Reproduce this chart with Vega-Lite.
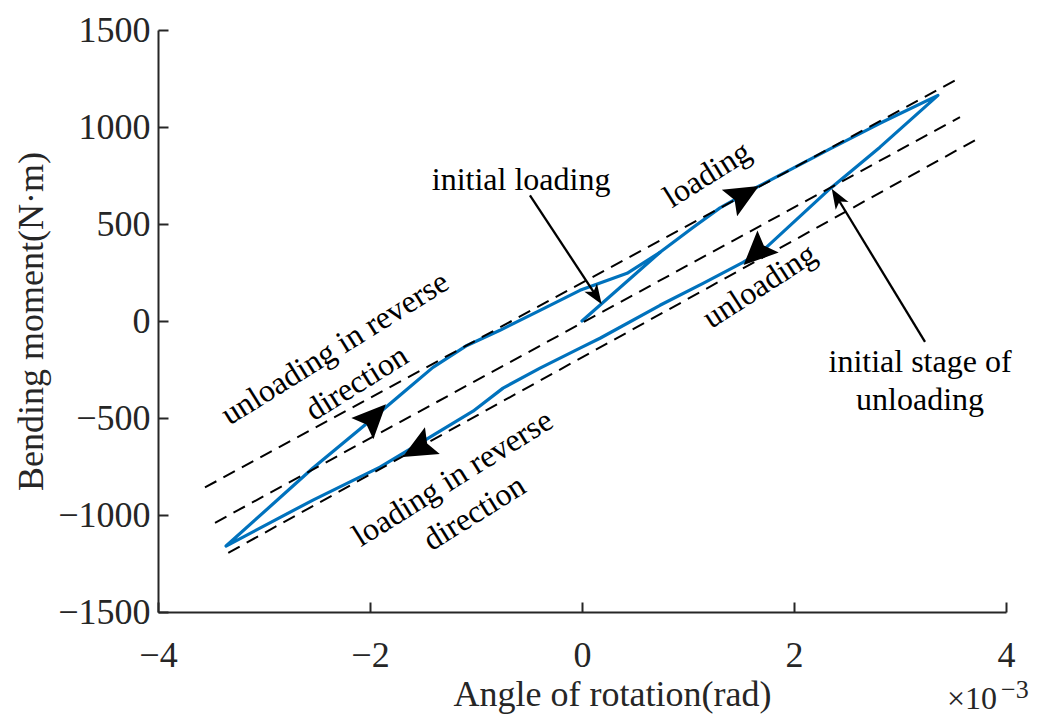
{
  "$schema": "https://vega.github.io/schema/vega-lite/v6.json",
  "width": 848,
  "height": 582,
  "autosize": {"type": "none"},
  "padding": {"left": 158, "top": 30, "right": 36, "bottom": 104},
  "background": "white",
  "config": {"view": {"stroke": null}, "font": "Liberation Serif"},
  "datasets": {
    "loop": [
      {"series": "initial", "i": 0, "x": 0, "y": 0},
      {"series": "initial", "i": 1, "x": 0.736, "y": 354},
      {"series": "cycle", "i": 0, "x": 0.736, "y": 354},
      {"series": "cycle", "i": 1, "x": 1.047, "y": 482},
      {"series": "cycle", "i": 2, "x": 1.302, "y": 583},
      {"series": "cycle", "i": 3, "x": 1.613, "y": 679},
      {"series": "cycle", "i": 4, "x": 2.34, "y": 887},
      {"series": "cycle", "i": 5, "x": 2.811, "y": 1019},
      {"series": "cycle", "i": 6, "x": 3.358, "y": 1163},
      {"series": "cycle", "i": 7, "x": 2.811, "y": 896},
      {"series": "cycle", "i": 8, "x": 2.34, "y": 682},
      {"series": "cycle", "i": 9, "x": 1.708, "y": 364},
      {"series": "cycle", "i": 10, "x": 1.519, "y": 302},
      {"series": "cycle", "i": 11, "x": 1.142, "y": 194},
      {"series": "cycle", "i": 12, "x": 0.736, "y": 81},
      {"series": "cycle", "i": 13, "x": 0.17, "y": -89},
      {"series": "cycle", "i": 14, "x": -0.019, "y": -140},
      {"series": "cycle", "i": 15, "x": -0.396, "y": -243},
      {"series": "cycle", "i": 16, "x": -0.745, "y": -346},
      {"series": "cycle", "i": 17, "x": -1.028, "y": -465},
      {"series": "cycle", "i": 18, "x": -1.434, "y": -599},
      {"series": "cycle", "i": 19, "x": -1.906, "y": -753},
      {"series": "cycle", "i": 20, "x": -2.538, "y": -923},
      {"series": "cycle", "i": 21, "x": -3.358, "y": -1160},
      {"series": "cycle", "i": 22, "x": -2.538, "y": -758},
      {"series": "cycle", "i": 23, "x": -2.028, "y": -527},
      {"series": "cycle", "i": 24, "x": -1.717, "y": -383},
      {"series": "cycle", "i": 25, "x": -1.406, "y": -239},
      {"series": "cycle", "i": 26, "x": -1.085, "y": -126},
      {"series": "cycle", "i": 27, "x": -0.774, "y": -48},
      {"series": "cycle", "i": 28, "x": -0.396, "y": 55},
      {"series": "cycle", "i": 29, "x": -0.019, "y": 158},
      {"series": "cycle", "i": 30, "x": 0.425, "y": 246},
      {"series": "cycle", "i": 31, "x": 0.736, "y": 354}
    ],
    "guides": [
      {"line": "upper", "x": -3.557, "y": -858},
      {"line": "upper", "x": 3.519, "y": 1240},
      {"line": "middle", "x": -3.462, "y": -1040},
      {"line": "middle", "x": 3.566, "y": 1051},
      {"line": "lower", "x": -3.337, "y": -1195},
      {"line": "lower", "x": 3.755, "y": 946}
    ],
    "one": [{}]
  },
  "layer": [
    {
      "data": {"name": "loop"},
      "mark": {"type": "line", "color": "#0072BD", "strokeWidth": 3.2, "strokeJoin": "round", "strokeCap": "round"},
      "encoding": {
        "x": {
          "field": "x", "type": "quantitative",
          "scale": {"domain": [-4, 4], "nice": false, "zero": false},
          "axis": {
            "values": [-4, -2, 0, 2, 4],
            "format": "d",
            "grid": false,
            "labelFlush": false,
            "labelFont": "Liberation Serif", "labelFontSize": 36, "labelColor": "#262626",
            "labelPadding": 36,
            "tickSize": -10, "tickWidth": 2, "tickColor": "#262626",
            "domainColor": "#262626", "domainWidth": 2,
            "title": "Angle of rotation(rad)",
            "titleFont": "Liberation Serif", "titleFontSize": 36, "titleFontWeight": "normal", "titleColor": "#262626",
            "titleX": 454, "titleY": 93, "titleBaseline": "alphabetic", "titleAlign": "center"
          }
        },
        "y": {
          "field": "y", "type": "quantitative",
          "scale": {"domain": [-1500, 1500], "nice": false, "zero": false},
          "axis": {
            "values": [-1500, -1000, -500, 0, 500, 1000, 1500],
            "format": "d",
            "grid": false,
            "labelFlush": false,
            "labelFont": "Liberation Serif", "labelFontSize": 36, "labelColor": "#262626",
            "labelPadding": 18,
            "tickSize": -10, "tickWidth": 2, "tickColor": "#262626",
            "domainColor": "#262626", "domainWidth": 2,
            "title": "Bending moment(N·m)",
            "titleFont": "Liberation Serif", "titleFontSize": 36, "titleFontWeight": "normal", "titleColor": "#262626",
            "titleX": -116, "titleY": 291, "titleAngle": -90, "titleBaseline": "alphabetic", "titleAlign": "center"
          }
        },
        "detail": {"field": "series"},
        "order": {"field": "i", "type": "quantitative"}
      }
    },
    {
      "data": {"name": "guides"},
      "mark": {"type": "line", "color": "black", "strokeWidth": 2, "strokeDash": [13, 8]},
      "encoding": {
        "x": {"field": "x", "type": "quantitative"},
        "y": {"field": "y", "type": "quantitative"},
        "detail": {"field": "line"}
      }
    },
    {
      "data": {"name": "one"},
      "mark": {"type": "point", "shape": "M0,-1L0.9,1L0,0.65L-0.9,1Z", "size": 1156, "filled": true, "color": "black", "opacity": 1, "angle": 60},
      "encoding": {"x": {"datum": 1.53, "type": "quantitative"}, "y": {"datum": 652, "type": "quantitative"}}
    },
    {
      "data": {"name": "one"},
      "mark": {"type": "point", "shape": "M0,-1L0.9,1L0,0.65L-0.9,1Z", "size": 1156, "filled": true, "color": "black", "opacity": 1, "angle": 226},
      "encoding": {"x": {"datum": 1.64, "type": "quantitative"}, "y": {"datum": 349, "type": "quantitative"}}
    },
    {
      "data": {"name": "one"},
      "mark": {"type": "point", "shape": "M0,-1L0.9,1L0,0.65L-0.9,1Z", "size": 1156, "filled": true, "color": "black", "opacity": 1, "angle": 44},
      "encoding": {"x": {"datum": -1.961, "type": "quantitative"}, "y": {"datum": -492, "type": "quantitative"}}
    },
    {
      "data": {"name": "one"},
      "mark": {"type": "point", "shape": "M0,-1L0.9,1L0,0.65L-0.9,1Z", "size": 1156, "filled": true, "color": "black", "opacity": 1, "angle": 241},
      "encoding": {"x": {"datum": -1.552, "type": "quantitative"}, "y": {"datum": -659, "type": "quantitative"}}
    },
    {
      "data": {"name": "one"},
      "mark": {"type": "rule", "color": "black", "strokeWidth": 2.3},
      "encoding": {
        "x": {"datum": -0.491, "type": "quantitative"}, "y": {"datum": 648, "type": "quantitative"},
        "x2": {"datum": 0.134}, "y2": {"datum": 129.5}
      }
    },
    {
      "data": {"name": "one"},
      "mark": {"type": "point", "shape": "M0,-1L0.75,1L0,0.5L-0.75,1Z", "size": 400, "filled": true, "color": "black", "opacity": 1, "angle": 146.7},
      "encoding": {"x": {"datum": 0.134, "type": "quantitative"}, "y": {"datum": 129.5, "type": "quantitative"}}
    },
    {
      "data": {"name": "one"},
      "mark": {"type": "rule", "color": "black", "strokeWidth": 2.3},
      "encoding": {
        "x": {"datum": 3.236, "type": "quantitative"}, "y": {"datum": -108, "type": "quantitative"},
        "x2": {"datum": 2.405}, "y2": {"datum": 638}
      }
    },
    {
      "data": {"name": "one"},
      "mark": {"type": "point", "shape": "M0,-1L0.75,1L0,0.5L-0.75,1Z", "size": 400, "filled": true, "color": "black", "opacity": 1, "angle": 328.7},
      "encoding": {"x": {"datum": 2.405, "type": "quantitative"}, "y": {"datum": 638, "type": "quantitative"}}
    },
    {
      "data": {"name": "one"},
      "mark": {"type": "text", "text": "initial loading", "font": "Liberation Serif", "fontSize": 32, "color": "black", "align": "center", "baseline": "alphabetic"},
      "encoding": {"x": {"datum": -0.575, "type": "quantitative"}, "y": {"datum": 673, "type": "quantitative"}}
    },
    {
      "data": {"name": "one"},
      "mark": {"type": "text", "text": "loading", "font": "Liberation Serif", "fontSize": 32, "color": "black", "align": "center", "baseline": "middle", "angle": -32},
      "encoding": {"x": {"datum": 1.18, "type": "quantitative"}, "y": {"datum": 755, "type": "quantitative"}}
    },
    {
      "data": {"name": "one"},
      "mark": {"type": "text", "text": "unloading", "font": "Liberation Serif", "fontSize": 32, "color": "black", "align": "center", "baseline": "middle", "angle": -33},
      "encoding": {"x": {"datum": 1.675, "type": "quantitative"}, "y": {"datum": 180, "type": "quantitative"}}
    },
    {
      "data": {"name": "one"},
      "mark": {"type": "text", "text": ["unloading in reverse", "direction"], "font": "Liberation Serif", "fontSize": 32, "lineHeight": 41, "color": "black", "align": "center", "baseline": "middle", "angle": -32},
      "encoding": {"x": {"datum": -2.33, "type": "quantitative"}, "y": {"datum": -140, "type": "quantitative"}}
    },
    {
      "data": {"name": "one"},
      "mark": {"type": "text", "text": ["loading in reverse", "direction"], "font": "Liberation Serif", "fontSize": 32, "lineHeight": 41, "color": "black", "align": "center", "baseline": "middle", "angle": -32},
      "encoding": {"x": {"datum": -1.22, "type": "quantitative"}, "y": {"datum": -810, "type": "quantitative"}}
    },
    {
      "data": {"name": "one"},
      "mark": {"type": "text", "text": ["initial stage of", "unloading"], "font": "Liberation Serif", "fontSize": 32, "lineHeight": 38, "color": "black", "align": "center", "baseline": "alphabetic"},
      "encoding": {"x": {"datum": 3.189, "type": "quantitative"}, "y": {"datum": -262, "type": "quantitative"}}
    },
    {
      "data": {"name": "one"},
      "mark": {"type": "text", "text": "×10", "font": "Liberation Serif", "fontSize": 32, "color": "#262626", "align": "right", "baseline": "alphabetic", "dx": -9, "dy": 97},
      "encoding": {"x": {"datum": 4, "type": "quantitative"}, "y": {"datum": -1500, "type": "quantitative"}}
    },
    {
      "data": {"name": "one"},
      "mark": {"type": "text", "text": "−3", "font": "Liberation Serif", "fontSize": 26, "color": "#262626", "align": "left", "baseline": "alphabetic", "dx": -5, "dy": 86},
      "encoding": {"x": {"datum": 4, "type": "quantitative"}, "y": {"datum": -1500, "type": "quantitative"}}
    }
  ]
}
